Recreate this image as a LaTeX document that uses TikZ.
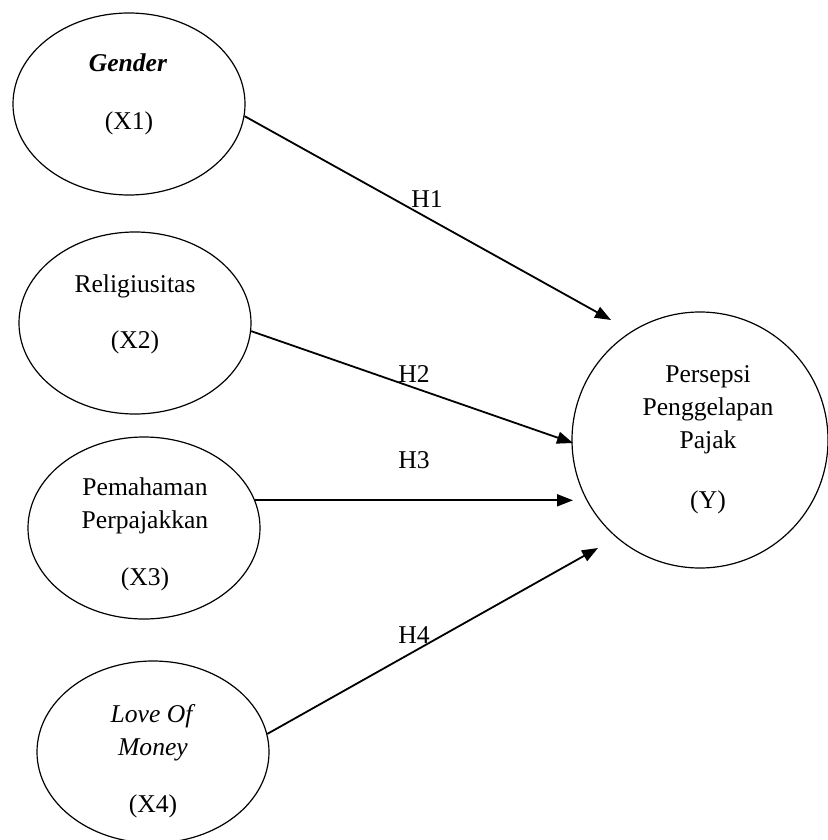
\documentclass[tikz,border=0pt]{standalone}
\usepackage{fontspec}
\setmainfont{Liberation Serif}
\usetikzlibrary{shapes.geometric,arrows.meta}
\begin{document}
\begin{tikzpicture}[x=0.5pt,y=-0.5pt,font=\fontsize{12.8pt}{17pt}\selectfont,
  var node/.style={ellipse,draw,line width=0.6pt,minimum width=116pt,minimum height=91pt,inner sep=0pt},
  txt node/.style={anchor=base,inner sep=0pt},
  hyp arrow/.style={line width=0.9pt,-{Triangle[length=8pt,width=6pt]}}]%
  \useasboundingbox (0,0) rectangle (828,840);
  \node[var node] (x1) at (129,104) {};
  \node[var node] (x2) at (135,323) {};
  \node[var node] (x3) at (144,528) {};
  \node[var node] (x4) at (153,752) {};
  \node[var node,minimum width=128pt,minimum height=128pt] (y) at (700,440) {};

  \node[txt node] (x1a) at (128,72) {\textbf{\textit{Gender}}};
  \node[txt node] (x1b) at (129,130) {(X1)};
  \node[txt node] (x2a) at (135,292) {Religiusitas};
  \node[txt node] (x2b) at (135,348) {(X2)};
  \node[txt node] (x3a) at (145,495) {Pemahaman};
  \node[txt node] (x3b) at (145,528) {Perpajakkan};
  \node[txt node] (x3c) at (145,585) {(X3)};
  \node[txt node] (x4a) at (153,722) {\textit{Love Of}};
  \node[txt node] (x4b) at (153,755) {\textit{Money}};
  \node[txt node] (x4c) at (153,812) {(X4)};
  \node[txt node] (ya) at (708,382) {Persepsi};
  \node[txt node] (yb) at (708,415) {Penggelapan};
  \node[txt node] (yc) at (708,448) {Pajak};
  \node[txt node] (yd) at (708,508) {(Y)};

  \foreach \i/\tx/\ty in {1/611/320,2/573/443,4/598/548}
    \coordinate (t\i) at (\tx,\ty);
  \coordinate (t3) at (573,0 |- x3.14);
  \draw[hyp arrow] (x1.-6) -- (t1);
  \draw[hyp arrow] (x2.-4) -- (t2);
  \draw[hyp arrow] (x3.14) -- (t3);
  \draw[hyp arrow] (x4.9) -- (t4);
  \foreach \i/\hx/\hy in {1/427/207,2/414/382,3/414/468,4/414/643}
    \node[txt node] (h\i) at (\hx,\hy) {H\i};
\end{tikzpicture}
\end{document}
